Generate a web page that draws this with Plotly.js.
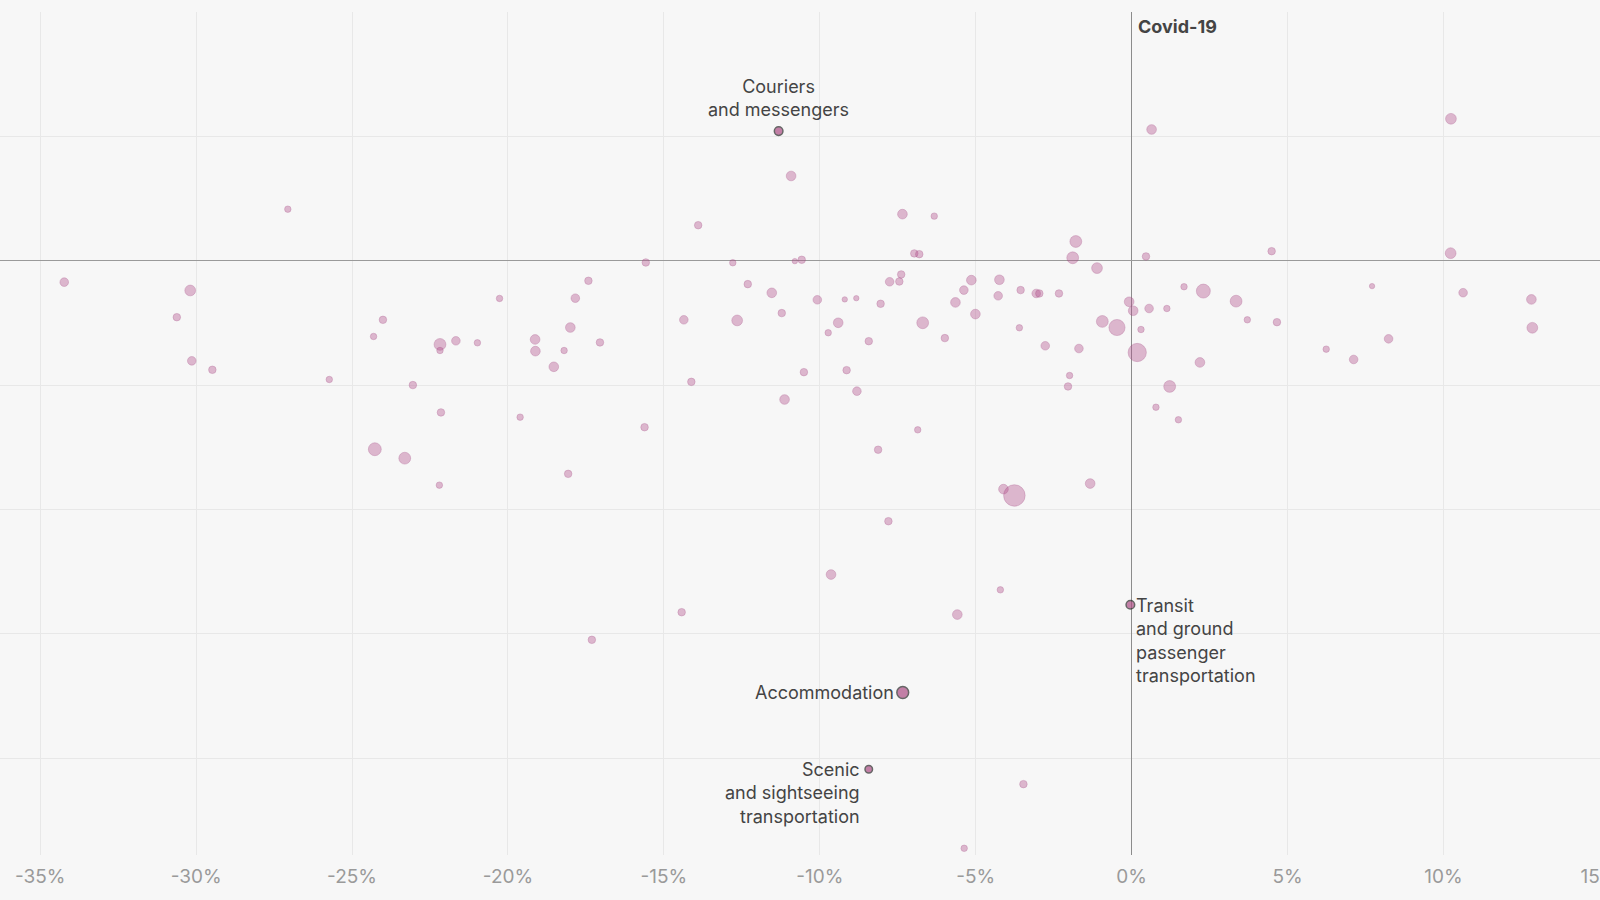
<!DOCTYPE html>
<html>
<head>
<meta charset="utf-8">
<script src="https://cdn.plot.ly/plotly-3.0.1.min.js"></script>
<style>
    html, body { margin: 0; padding: 0; background: #f7f7f7; }
    #chart { width: 1600px; height: 900px; }
</style>
</head>
<body>
<div id="chart"></div>
<script>
// industries: horizontal value, vertical value, employment (thousands)
var xChange = [
    -27.06, -34.23, -30.19, -30.62, -30.14, -29.48, -25.73, -24.01, -24.31, -22.18,
    -22.18, -21.67, -20.98, -20.27, -23.05, -22.15, -24.27, -23.31, -22.2, -19.61,
    -10.92, -13.9, -15.58, -12.79, -10.8, -10.58, -7.35, -6.33, -6.97, -6.81,
    -7.39, -7.76, -7.45, -17.42, -17.84, -18.0, -19.13, -19.12, -18.2, -17.05,
    -18.53, -15.62, -18.07, -14.36, -14.12, -12.31, -11.54, -12.65, -11.22, -10.08,
    -9.2, -8.83, -8.05, -9.41, -9.73, -8.43, -10.51, -9.14, -8.81, -11.13,
    -6.86, -8.13, -6.7, -5.99, -5.65, -5.38, -5.14, -5.01, -4.24, -4.28,
    -3.56, -3.6, -3.06, -2.96, -2.33, -4.11, -3.76, -7.8, -9.64, -4.21,
    -5.59, -14.43, -17.31, -3.47, -5.37, 0.78, 1.5, -1.33, -1.79, -1.89,
    -1.11, 0.46, 4.49, 10.23, 1.68, 2.3, 3.35, -0.08, 0.05, 0.56,
    1.13, 3.71, 4.66, 7.71, 10.63, 12.82, 12.85, -0.94, -0.47, 0.3,
    0.18, -2.77, -1.69, 6.24, 7.12, 8.24, 2.19, -1.99, -2.04, 1.22,
    0.64, 10.24
];
var yChange = [
    4.15, -1.72, -2.39, -4.54, -8.05, -8.77, -9.55, -4.75, -6.09, -6.73,
    -7.22, -6.44, -6.6, -3.03, -10.0, -12.2, -15.16, -15.88, -18.05, -12.58,
    6.82, 2.86, -0.14, -0.16, -0.03, 0.08, 3.75, 3.59, 0.59, 0.53,
    -1.1, -1.69, -1.67, -1.61, -3.01, -5.37, -6.33, -7.27, -7.22, -6.57,
    -8.53, -13.39, -17.14, -4.75, -9.74, -1.88, -2.58, -4.8, -4.21, -3.14,
    -3.11, -3.01, -3.46, -4.99, -5.79, -6.47, -8.96, -8.8, -10.49, -11.16,
    -13.6, -15.2, -4.99, -6.22, -3.35, -2.36, -1.56, -4.29, -1.53, -2.82,
    -2.36, -5.39, -2.63, -2.63, -2.63, -18.37, -18.88, -20.95, -25.24, -26.47,
    -28.46, -28.27, -30.49, -42.1, -47.26, -11.78, -12.79, -17.92, 1.55, 0.24,
    -0.59, 0.35, 0.77, 0.61, -2.09, -2.44, -3.25, -3.3, -4.02, -3.84,
    -3.84, -4.75, -4.94, -2.04, -2.57, -3.11, -5.39, -4.88, -5.37, -5.53,
    -7.38, -6.84, -7.06, -7.11, -7.94, -6.28, -8.18, -9.23, -10.11, -10.11,
    10.56, 11.42
];
var employment = [
    360, 640, 1000, 490, 640, 490, 360, 490, 360, 1210,
    360, 640, 360, 360, 490, 490, 1440, 1210, 360, 360,
    810, 490, 490, 360, 250, 490, 810, 360, 490, 490,
    490, 640, 490, 490, 640, 810, 810, 810, 360, 490,
    810, 490, 490, 640, 490, 490, 810, 1000, 490, 640,
    250, 250, 490, 810, 360, 490, 490, 490, 640, 810,
    360, 490, 1210, 490, 810, 640, 810, 810, 810, 640,
    490, 360, 640, 490, 490, 810, 4000, 490, 810, 360,
    810, 490, 490, 490, 360, 360, 360, 810, 1210, 1210,
    1000, 490, 490, 1000, 360, 1690, 1210, 810, 810, 640,
    360, 360, 490, 250, 640, 810, 1000, 1210, 2250, 360,
    2890, 640, 640, 360, 640, 640, 810, 360, 490, 1210,
    810, 1000
];

// named industries
var labelNames = [
    'Couriers<br>and messengers',
    'Transit<br>and ground<br>passenger<br>transportation',
    'Accommodation',
    'Scenic<br>and sightseeing<br>transportation'
];
var labelX = [-11.32, -0.04, -7.34, -8.43];
var labelY = [10.43, -27.67, -34.73, -40.9];
var labelEmployment = [640, 640, 1210, 490];

var xTickVals = [-35, -30, -25, -20, -15, -10, -5, 0, 5, 10, 15];

function bubble(v) {
    return Math.sqrt(v) * 0.34;
}

var FONT = 'Inter, "Noto Sans", sans-serif';

var traces = [
    {
        type: 'scatter',
        mode: 'markers',
        x: xChange,
        y: yChange,
        hoverinfo: 'skip',
        marker: {
            size: employment.map(bubble),
            color: 'rgba(178, 80, 140, 0.55)',
            line: { color: 'rgba(160, 65, 125, 0.4)', width: 1 },
        },
    },
    {
        type: 'scatter',
        mode: 'markers',
        x: labelX,
        y: labelY,
        hoverinfo: 'skip',
        marker: {
            size: labelEmployment.map(bubble),
            color: '#ad4d84',
            line: { color: '#2a2a2a', width: 1.5 },
        },
    },
];

// where each label sits relative to its point
var placement = [
    { xanchor: 'center', yanchor: 'bottom', align: 'center', xshift: 0, yshift: 9 },
    { xanchor: 'left', yanchor: 'top', align: 'left', xshift: 4, yshift: 12 },
    { xanchor: 'right', yanchor: 'middle', align: 'right', xshift: -7, yshift: 0 },
    { xanchor: 'right', yanchor: 'top', align: 'right', xshift: -7, yshift: 12 },
];

var annotations = labelNames.map(function(name, i) {
    var p = placement[i];
    return {
        x: labelX[i],
        y: labelY[i],
        xref: 'x',
        yref: 'y',
        text: name,
        showarrow: false,
        xanchor: p.xanchor,
        yanchor: p.yanchor,
        align: p.align,
        xshift: p.xshift,
        yshift: p.yshift,
        font: { family: FONT, size: 18, color: '#444444' },
    };
});

annotations.push({
    x: 0,
    y: 1,
    xref: 'x',
    yref: 'paper',
    text: '<b>Covid-19</b>',
    showarrow: false,
    xanchor: 'left',
    yanchor: 'top',
    xshift: 4,
    yshift: -2,
    font: { family: FONT, size: 18, color: '#444444' },
});

var layout = {
    width: 1600,
    height: 900,
    margin: { l: 0, r: 0, t: 12, b: 45, pad: 0 },
    paper_bgcolor: '#f7f7f7',
    plot_bgcolor: '#f7f7f7',
    showlegend: false,
    xaxis: {
        range: [-36.29, 15.02],
        tickvals: xTickVals,
        ticktext: xTickVals.map(function(v) { return (v < 0 ? '-' : '') + Math.abs(v) + '%'; }),
        showgrid: true,
        gridcolor: '#e8e8e8',
        gridwidth: 1,
        zeroline: true,
        zerolinecolor: '#8c8c8c',
        zerolinewidth: 1,
        showline: false,
        ticks: '',
        ticklabelstandoff: 8,
        ticklabeloverflow: 'allow',
        tickfont: { family: FONT, size: 19, color: '#9a9a9a' },
        fixedrange: true,
    },
    yaxis: {
        range: [-47.8, 20.01],
        dtick: 10,
        tick0: 0,
        showticklabels: false,
        showgrid: true,
        gridcolor: '#e8e8e8',
        gridwidth: 1,
        zeroline: true,
        zerolinecolor: '#9a9a9a',
        zerolinewidth: 1,
        showline: false,
        ticks: '',
        fixedrange: true,
    },
    annotations: annotations,
};

Plotly.newPlot('chart', traces, layout, { displayModeBar: false, staticPlot: true });
</script>
</body>
</html>
